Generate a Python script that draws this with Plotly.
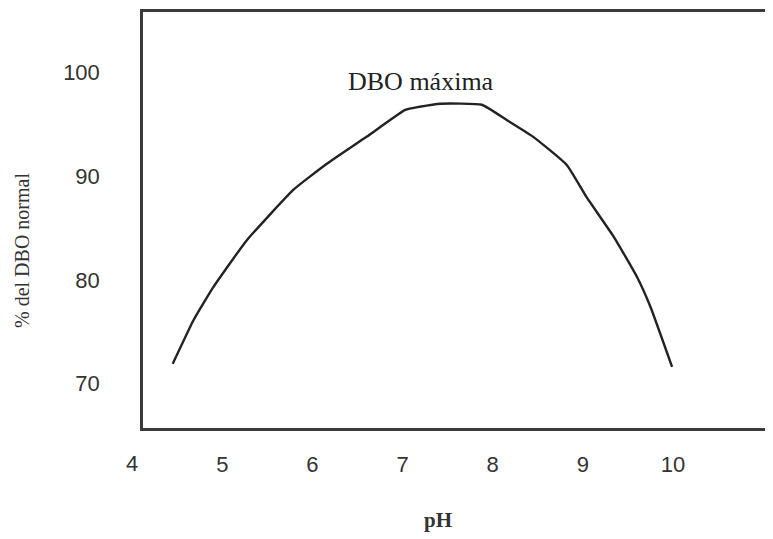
import plotly.graph_objects as go

ph = [4.45, 4.68, 4.90, 5.27, 5.79, 6.16, 6.60, 7.03, 7.19, 7.42, 7.88, 8.16, 8.45, 8.82, 9.04, 9.34, 9.60, 9.75, 9.99]
dbo = [71.9, 76.1, 79.3, 83.8, 88.7, 91.2, 93.8, 96.4, 96.7, 97.0, 96.9, 95.4, 93.8, 91.1, 88.0, 84.2, 80.3, 77.4, 71.6]

x_ticks = [5, 6, 7, 8, 9, 10]
y_ticks = [70, 80, 90, 100]

# plot area in screen pixels: x 143..773, y 12..428
def px(sx):
    return (sx - 143) / 630

def py(sy):
    return (428 - sy) / 416

fig = go.Figure()
fig.add_trace(go.Scatter(x=ph, y=dbo, mode="lines",
                         line=dict(color="#222222", width=2.4, shape="spline", smoothing=0.4),
                         showlegend=False, hoverinfo="skip"))

tickfont = dict(family="Liberation Sans, Arial, sans-serif", size=22, color="#333333")
serif = "Liberation Serif, Times New Roman, serif"

fig.update_layout(
    width=765, height=531,
    margin=dict(l=135, r=0, t=4, b=111),
    paper_bgcolor="white", plot_bgcolor="white",
    xaxis=dict(range=[4.12, 11.11], tickvals=x_ticks, ticktext=[str(v) for v in x_ticks],
               showgrid=False, zeroline=False, showline=True, mirror=True,
               linecolor="#3a3a3a", linewidth=2.5, ticks="", ticklabelstandoff=15,
               tickfont=tickfont),
    yaxis=dict(range=[65.7, 105.85], tickvals=y_ticks, ticktext=[str(v) for v in y_ticks],
               showgrid=False, zeroline=False, showline=True, mirror=False,
               linecolor="#3a3a3a", linewidth=2.5, ticks="", ticklabelstandoff=36,
               tickfont=tickfont),
    annotations=[
        dict(text="4", x=px(132), xref="paper", y=py(463), yref="paper", showarrow=False,
             font=tickfont, xanchor="center", yanchor="middle"),
        dict(text="DBO máxima", x=px(421), xref="paper", y=py(82), yref="paper",
             showarrow=False, font=dict(family=serif, size=26, color="#222222"),
             xanchor="center", yanchor="middle"),
        dict(text="<b>pH</b>", x=px(438), xref="paper", y=py(520), yref="paper",
             showarrow=False, font=dict(family=serif, size=21, color="#333333"),
             xanchor="center", yanchor="middle"),
        dict(text="% del DBO normal", x=px(22), xref="paper", y=py(250), yref="paper",
             showarrow=False, textangle=-90,
             font=dict(family=serif, size=20, color="#333333"),
             xanchor="center", yanchor="middle"),
    ],
)

fig.write_html("out.html")
